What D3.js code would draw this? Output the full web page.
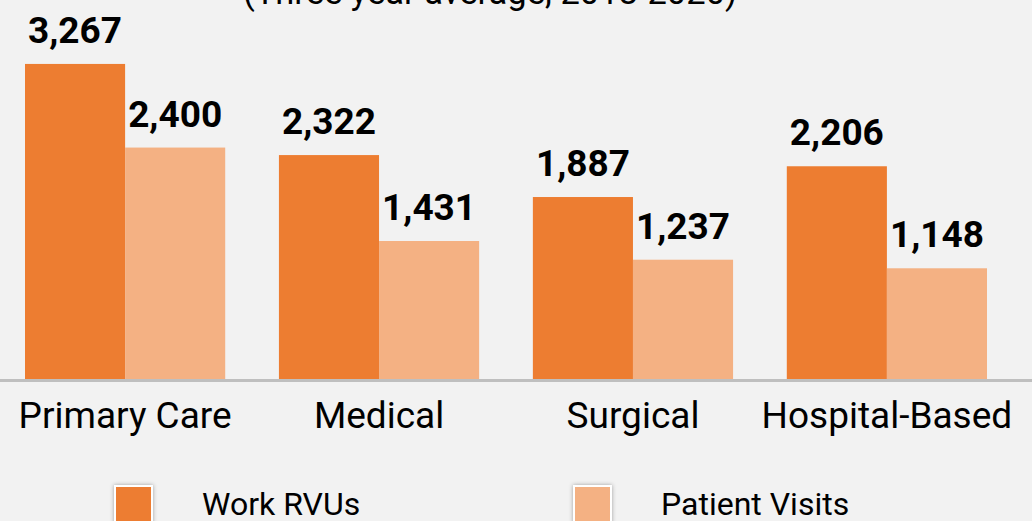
<!DOCTYPE html>
<meta charset="utf-8">
<style>
  body { margin: 0; background: #f2f2f2; }
  svg { display: block; font-family: Roboto, "Noto Sans", sans-serif; }
</style>
<svg id="chart" width="1032" height="521"></svg>
<script src="https://d3js.org/d3.v7.min.js"></script>
<script>

// chart data
var categories = ["Primary Care", "Medical", "Surgical", "Hospital-Based"];
var seriesNames = ["Work RVUs", "Patient Visits"];
var workRVUs = [3267, 2322, 1887, 2206];
var patientVisits = [2400, 1431, 1237, 1148];
var colors = ["#ED7D31", "#F4B183"];

var svg = d3.select("#chart");
var format = d3.format(",");
var baseline = 379;

var rows = categories.map(function(c, i) {
  return { cat: c, values: [workRVUs[i], patientVisits[i]] };
});

var x = d3.scaleBand()
  .domain(categories)
  .range([25, 987])
  .paddingInner(0.2116)
  .paddingOuter(0);

var x1 = d3.scaleBand()
  .domain(seriesNames)
  .range([0, x.bandwidth()]);

var y = d3.scaleLinear()
  .domain([0, 3930])
  .range([baseline, 0]);

// title (cut off at top)
svg.append("text")
  .attr("x", 490)
  .attr("y", 4)
  .attr("text-anchor", "middle")
  .style("font-size", "34.5px")
  .style("fill", "#000")
  .text("(Three year average, 2018-2020)");

// bars
var groups = svg.append("g")
  .selectAll("g")
  .data(rows)
  .enter()
  .append("g")
    .attr("transform", function(d) { return "translate(" + x(d.cat) + ",0)"; });

groups.selectAll("rect")
  .data(function(d) { return d.values.map(function(v, j) { return { name: seriesNames[j], v: v, j: j }; }); })
  .enter()
  .append("rect")
    .attr("x", function(d) { return x1(d.name); })
    .attr("y", function(d) { return y(d.v); })
    .attr("width", x1.bandwidth())
    .attr("height", function(d) { return baseline - y(d.v); })
    .attr("fill", function(d) { return colors[d.j]; });

// value labels
groups.selectAll("text")
  .data(function(d) { return d.values.map(function(v, j) { return { name: seriesNames[j], v: v }; }); })
  .enter()
  .append("text")
    .attr("x", function(d) { return x1(d.name) + x1.bandwidth() / 2; })
    .attr("y", function(d) { return y(d.v) - 21; })
    .attr("text-anchor", "middle")
    .style("font-size", "37px")
    .style("font-weight", "bold")
    .text(function(d) { return format(d.v); });

// x axis
var xAxis = svg.append("g")
  .attr("transform", "translate(0," + baseline + ")")
  .call(d3.axisBottom(x).tickSize(0).tickPadding(0));
xAxis.select(".domain").remove();
xAxis.append("line")
  .attr("x1", 0).attr("x2", 1032)
  .attr("y1", 1.5).attr("y2", 1.5)
  .attr("stroke", "#bfbfbf")
  .attr("stroke-width", 3);
xAxis.selectAll(".tick text")
  .attr("y", 49)
  .attr("dy", null)
  .style("font-family", "Roboto, sans-serif")
  .style("font-size", "37px")
  .style("fill", "#000");

// legend
var defs = svg.append("defs");
var f = defs.append("filter").attr("id", "sh").attr("x", "-30%").attr("y", "-30%").attr("width", "160%").attr("height", "160%");
f.append("feDropShadow").attr("dx", 0).attr("dy", 0).attr("stdDeviation", 2).attr("flood-color", "#000").attr("flood-opacity", 0.35);

var legendX = [115, 574];
var legend = svg.append("g")
  .selectAll("g")
  .data(seriesNames)
  .enter()
  .append("g")
    .attr("transform", function(d, i) { return "translate(" + legendX[i] + ",486)"; });

legend.append("rect")
  .attr("width", 37)
  .attr("height", 37)
  .attr("fill", function(d, i) { return colors[i]; })
  .attr("stroke", "#fff")
  .attr("stroke-width", 2)
  .attr("filter", "url(#sh)");

legend.append("text")
  .attr("x", 87)
  .attr("y", 29)
  .style("font-size", "32px")
  .text(function(d) { return d; });

</script>
